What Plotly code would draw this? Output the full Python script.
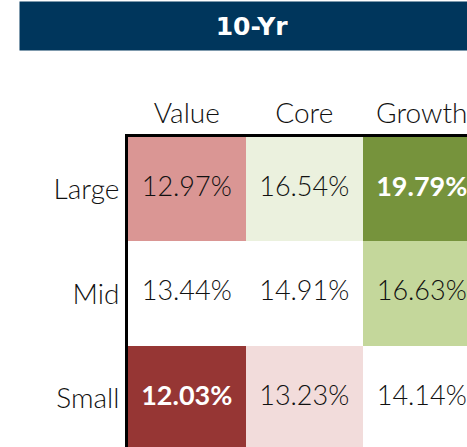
import plotly.graph_objects as go

title_text = "10-Yr"
styles = ["Value", "Core", "Growth"]
sizes = ["Large", "Mid", "Small"]
returns = [
    [12.97, 16.54, 19.79],
    [13.44, 14.91, 16.63],
    [12.03, 13.23, 14.14],
]

# colours by rank (lowest to highest return)
rank_colors = ["#963634", "#DA9694", "#F2DCDB", "#FFFFFF", "#FFFFFF",
               "#FFFFFF", "#EBF1DE", "#C4D79B", "#76933C"]

flat = sorted(v for row in returns for v in row)
rank = [[flat.index(v) for v in row] for row in returns]
n = len(rank_colors)
colorscale = []
for i, c in enumerate(rank_colors):
    colorscale.append([i / n, c])
    colorscale.append([(i + 1) / n, c])

vmin, vmax = flat[0], flat[-1]
tx, ty, tt, tc = [], [], [], []
for r, s in enumerate(sizes):
    for c, st in enumerate(styles):
        v = returns[r][c]
        label = f"{v:.2f}%"
        if v in (vmin, vmax):
            tt.append(f"<b>{label}</b>")
            tc.append("white")
        else:
            tt.append(label)
            tc.append("#111111")
        tx.append(st)
        ty.append(s)

FONT = "Lato"

fig = go.Figure()
fig.add_trace(go.Heatmap(
    z=rank, x=styles, y=sizes, colorscale=colorscale, zmin=-0.5, zmax=n - 0.5,
    showscale=False, hoverinfo="skip", xgap=0, ygap=0,
))
fig.add_trace(go.Scatter(
    x=tx, y=ty, mode="text", text=tt,
    textfont=dict(family=FONT, size=27, color=tc, weight=300),
    hoverinfo="skip", showlegend=False,
))

fig.update_layout(
    width=467, height=447,
    margin=dict(l=128, r=0, t=137, b=0, pad=0),
    paper_bgcolor="white", plot_bgcolor="white",
    showlegend=False,
    font=dict(family=FONT, color="#111111"),
    xaxis=dict(
        type="category", side="top", range=[-0.5, 2.385],
        showline=True, linewidth=3, linecolor="black",
        showgrid=False, zeroline=False,
        ticks="", ticklabelstandoff=0,
        tickfont=dict(family=FONT, size=28, color="#111111", weight=300),
        automargin=False, fixedrange=True,
    ),
    yaxis=dict(
        type="category", range=[2.467, -0.5],
        categoryorder="array", categoryarray=sizes,
        showline=True, linewidth=3, linecolor="black",
        showgrid=False, zeroline=False,
        ticks="", ticklabelstandoff=0,
        tickfont=dict(family=FONT, size=28, color="#111111", weight=300),
        automargin=False, fixedrange=True,
    ),
    annotations=[dict(
        text=f"<b>{title_text}</b>", xref="paper", yref="paper",
        x=0.366, y=1.358, xanchor="center", yanchor="middle",
        showarrow=False, width=462, height=46, bgcolor="#00365C",
        font=dict(family="DejaVu Sans", size=25, color="white"),
    )],
)

fig.write_html(
    "out.html",
    config={"displayModeBar": False},
    post_script="document.body.style.margin='0';"
                "document.documentElement.style.overflow='hidden';"
                "document.body.style.overflow='hidden';",
)
